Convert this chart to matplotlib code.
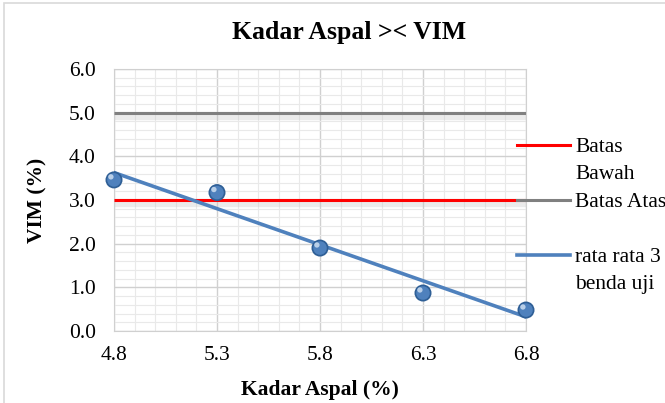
import numpy as np
import matplotlib
matplotlib.use("Agg")
import matplotlib.pyplot as plt
from matplotlib.patches import Rectangle
from matplotlib.lines import Line2D
from matplotlib.ticker import MultipleLocator

kadar_aspal = [4.8, 5.3, 5.8, 6.3, 6.8]
vim = [3.46, 3.17, 1.90, 0.87, 0.48]
batas_bawah = 3.0
batas_atas = 5.0
x_ticks = [4.8, 5.3, 5.8, 6.3, 6.8]
y_ticks = [0.0, 1.0, 2.0, 3.0, 4.0, 5.0, 6.0]
legend_labels = ['Batas\nBawah', 'Batas Atas', 'rata rata 3\nbenda uji']

plt.rcParams['font.family'] = ['Liberation Serif', 'DejaVu Serif']

W, H = 665, 403
fig = plt.figure(figsize=(6.65, 4.03), dpi=100)
fig.patches.append(Rectangle((4/W, -0.1), 1.2, 1 - 3/H + 0.1, transform=fig.transFigure,
                             fill=False, edgecolor='#d9d9d9', linewidth=1.2))
ax = fig.add_axes([114/W, 1 - 331/H, (526 - 114)/W, (331 - 69)/H])

ax.set_xlim(4.8, 6.8)
ax.set_ylim(0, 6)
ax.set_xticks(x_ticks)
ax.set_xticklabels([f"{v:.1f}" for v in x_ticks])
ax.set_yticks(y_ticks)
ax.set_yticklabels([f"{v:.1f}" for v in y_ticks])
ax.xaxis.set_minor_locator(MultipleLocator(0.1))
ax.yaxis.set_minor_locator(MultipleLocator(0.2))
ax.grid(which='major', color='#d0d0d0', linewidth=1.0, zorder=0)
ax.grid(which='minor', color='#e9e9e9', linewidth=0.8, zorder=0)
ax.tick_params(which='both', length=0)
ax.tick_params(axis='x', pad=11, labelsize=15.5)
ax.tick_params(axis='y', pad=13, labelsize=15.5)
for s in ax.spines.values():
    s.set_color('#d0d0d0')
ax.set_axisbelow(True)

xs = np.array(kadar_aspal)
for yv in (batas_bawah, batas_atas):
    ax.plot([xs[0], xs[-1]], [yv - 0.08, yv - 0.08], color='#c8c8c8', lw=6, alpha=0.35,
            solid_capstyle='butt', zorder=2)
ax.plot([xs[0], xs[-1]], [batas_atas, batas_atas], color='#808080', lw=2.2,
        solid_capstyle='butt', zorder=3)
ax.plot([xs[0], xs[-1]], [batas_bawah, batas_bawah], color='#ff0000', lw=2.2,
        solid_capstyle='butt', zorder=3)

coef = np.polyfit(xs, vim, 1)
ax.plot(xs[[0, -1]], np.polyval(coef, xs[[0, -1]]), color='#4f81bd', lw=2.6, zorder=4)

ax.scatter(kadar_aspal, vim, s=150, color='#2f5f96', zorder=5, clip_on=False,
           edgecolors='none')
ax.scatter(kadar_aspal, vim, s=95, color='#4f81bd', zorder=6, clip_on=False,
           edgecolors='none')
ax.scatter(xs - 0.015, np.array(vim) + 0.07, s=15, color='#b9cfe8',
           zorder=7, clip_on=False, edgecolors='none')

ax.set_xlabel('Kadar Aspal (%)', fontsize=15.5, fontweight='bold')
ax.xaxis.label.set_va('center')
ax.xaxis.set_label_coords(0.5, (331 - 390) / 262)
ax.set_ylabel('VIM (%)', fontsize=15.5, fontweight='bold')
ax.yaxis.label.set_va('center')
ax.yaxis.set_label_coords((37 - 114) / 412, 0.5)
fig.text(349/W, 1 - 33/H, 'Kadar Aspal >< VIM', ha='center', va='center',
         fontsize=18.5, fontweight='bold')

# legend drawn manually so the handle lines sit beside the first text line
leg_colors = ['#ff0000', '#808080', '#4f81bd']
leg_widths = [2.2, 2.2, 2.6]
leg_y = [145, 200, 255]
for lab, c, lw, yp in zip(legend_labels, leg_colors, leg_widths, leg_y):
    yf = 1 - yp/H
    fig.add_artist(Line2D([517/W, 570/W], [yf, yf], color=c, lw=lw,
                          transform=fig.transFigure))
    for i, part in enumerate(lab.split('\n')):
        fig.text(575/W, 1 - (yp + 27*i)/H, part, ha='left', va='center_baseline',
                 fontsize=15.5)

fig.savefig('out.png', dpi=100)
